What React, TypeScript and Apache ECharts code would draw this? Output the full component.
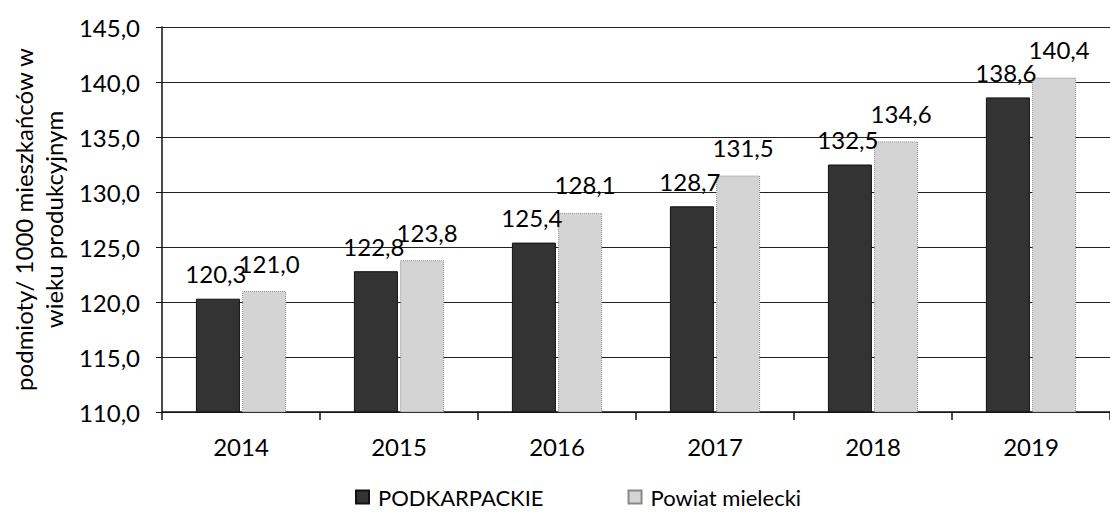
import React, { useEffect, useRef } from "react";
import * as echarts from "echarts";

const categories = ["2014", "2015", "2016", "2017", "2018", "2019"];
const podkarpackie = [120.3, 122.8, 125.4, 128.7, 132.5, 138.6];
const powiatMielecki = [121.0, 123.8, 128.1, 131.5, 134.6, 140.4];
const seriesNames = ["PODKARPACKIE", "Powiat mielecki"];
const yAxisTitle = "podmioty/ 1000 mieszkańców w\nwieku produkcyjnym";

const fmt = (v: number) => v.toFixed(1).replace(".", ",");
const FONT = "Lato";
const FS = 24;

export default function App() {
  const ref = useRef<HTMLDivElement>(null);
  useEffect(() => {
    if (!ref.current) return;
    const chart = echarts.init(ref.current, undefined, { renderer: "svg" });
    const labelBase = {
      show: true,
      position: "top" as const,
      distance: 13,
      color: "#000",
      fontFamily: FONT,
      fontSize: FS,
      formatter: (p: any) => fmt(p.value),
    };
    chart.setOption({
      animation: false,
      backgroundColor: "#ffffff",
      textStyle: { fontFamily: FONT },
      grid: { left: 161, width: 957, top: 27, bottom: 101, containLabel: false },
      legend: {
        bottom: 0,
        left: 350,
        itemWidth: 13,
        itemHeight: 13,
        itemGap: 84,
        icon: "rect",
        textStyle: { fontFamily: FONT, fontSize: 22, color: "#000", padding: [0, 0, 0, 4] },
        data: seriesNames,
      },
      xAxis: {
        type: "category",
        data: categories,
        axisLine: { lineStyle: { color: "#111", width: 1.5 } },
        axisTick: { show: true, alignWithLabel: false, length: 8, lineStyle: { color: "#111", width: 1.5 } },
        axisLabel: { color: "#000", fontFamily: FONT, fontSize: FS, margin: 22 },
      },
      yAxis: {
        type: "value",
        min: 110,
        max: 145,
        interval: 5,
        name: yAxisTitle,
        nameLocation: "middle",
        nameRotate: 90,
        nameGap: 90,
        nameTextStyle: { fontFamily: FONT, fontSize: FS, color: "#000", lineHeight: 30 },
        axisLine: { show: true, lineStyle: { color: "#111", width: 1.5 } },
        axisTick: { show: true, length: 6, lineStyle: { color: "#111" } },
        axisLabel: {
          color: "#000",
          fontFamily: FONT,
          fontSize: FS,
          margin: 22,
          formatter: (v: number) => fmt(v),
        },
        splitLine: { show: true, lineStyle: { color: "#222", width: 1.2 } },
      },
      series: [
        {
          name: seriesNames[0],
          type: "bar",
          data: podkarpackie,
          barWidth: 44,
          barGap: "5%",
          itemStyle: { color: "#333333", borderColor: "#111", borderWidth: 1 },
          label: { ...labelBase, offset: [-2, 0] },
        },
        {
          name: seriesNames[1],
          type: "bar",
          data: powiatMielecki,
          barWidth: 44,
          itemStyle: { color: "#d4d4d4", borderColor: "#888", borderWidth: 1, borderType: "dotted" },
          label: { ...labelBase, offset: [5, -3] },
        },
      ],
    });
    return () => chart.dispose();
  }, []);
  return (
    <div
      ref={ref}
      style={{ position: "absolute", left: 0, top: 0, width: 1110, height: 513 }}
    />
  );
}
